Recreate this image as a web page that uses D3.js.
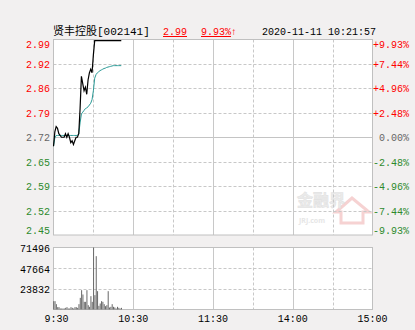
<!DOCTYPE html>
<html>
<head>
<meta charset="utf-8">
<script src="https://cdn.jsdelivr.net/npm/d3@7"></script>
<style>
  body { margin: 0; background: #f2f0f0; }
  text { font-family: "Liberation Mono", "DejaVu Sans Mono", "Noto Sans CJK SC", monospace; }
</style>
</head>
<body>
<div id="chart"></div>
<script>
// data (minutes after 9:30)
const prevClose = 2.72;
const priceTicks = ["2.99", "2.92", "2.86", "2.79", "2.72", "2.65", "2.59", "2.52", "2.45"];
const pctTicks = ["+9.93%", "+7.44%", "+4.96%", "+2.48%", "0.00%", "-2.48%", "-4.96%", "-7.44%", "-9.93%"];
const volTicks = [71496, 47664, 23832];
const timeLabels = ["9:30", "10:30", "11:30", "14:00", "15:00"];
const timeMinutes = [0, 60, 120, 180, 240];

const price = [2.695, 2.735, 2.75, 2.745, 2.73, 2.725, 2.72, 2.72, 2.72, 2.73,
    2.72, 2.73, 2.72, 2.705, 2.71, 2.70, 2.71, 2.72, 2.72, 2.73,
    2.80, 2.89, 2.87, 2.85, 2.86, 2.84, 2.88, 2.90, 2.91, 2.90,
    2.95, 2.99, 2.99, 2.99, 2.99, 2.99, 2.99, 2.99, 2.99, 2.99,
    2.99, 2.99, 2.99, 2.99, 2.99, 2.99, 2.99, 2.99, 2.99, 2.99,
    2.99, 2.99];
const avgPrice = [2.695, 2.718, 2.725, 2.725, 2.725, 2.725, 2.725, 2.725, 2.725, 2.725,
    2.725, 2.725, 2.725, 2.725, 2.725, 2.725, 2.725, 2.725, 2.725, 2.73,
    2.76, 2.785, 2.79, 2.795, 2.80, 2.802, 2.805, 2.81, 2.815, 2.825,
    2.85, 2.885, 2.895, 2.90, 2.903, 2.906, 2.908, 2.91, 2.912, 2.913,
    2.915, 2.916, 2.917, 2.918, 2.919, 2.92, 2.92, 2.92, 2.92, 2.92,
    2.92, 2.92];
const volume = [9610, 9610, 6150, 2690, 2690, 1150, 1150, 1150, 1150, 1920,
    2690, 1150, 1150, 2690, 1920, 1150, 2690, 2690, 1920, 6150,
    13450, 22290, 17300, 8840, 8840, 22290, 5000, 3080, 15380, 8840,
    71496, 16530, 61500, 21140, 4230, 6920, 9610, 8840, 6150, 3840,
    5000, 21140, 2310, 3080, 6150, 3080, 2310, 1150, 3080, 1920,
    1150, 1920];

const W = 415, H = 330;
const left = 53.5, right = 372.5;
const pTop = 39.5, pBot = 235;
const vTop = 247.5, vBot = 309.5;

const svg = d3.select("#chart").append("svg")
    .attr("width", W)
    .attr("height", H);

svg.append("rect").attr("width", W).attr("height", H).attr("fill", "#f2f0f0");

const x = d3.scaleLinear().domain([0, 240]).range([left, right]);
const y = d3.scaleLinear().domain([prevClose - 0.273, prevClose + 0.273]).range([pBot, pTop]);
const yv = d3.scaleLinear().domain([0, volTicks[0]]).range([vBot, vTop]);

// panels
svg.append("rect").attr("x", left).attr("y", pTop).attr("width", right - left).attr("height", pBot - pTop)
    .attr("fill", "#fff");
svg.append("rect").attr("x", left).attr("y", vTop).attr("width", right - left).attr("height", vBot - vTop)
    .attr("fill", "#fff");

// watermark
const wm = svg.append("g");
wm.append("path").attr("d", "M336,212 L352,198 L369,212 L363,212 L363,223 L341,223 L341,212 Z")
    .attr("fill", "none").attr("stroke", "#f6d2d2").attr("stroke-width", 3);
wm.append("text").attr("x", 297).attr("y", 206).text("金融界")
    .style("font-family", "Noto Sans CJK SC").style("font-size", "16px").style("font-weight", "bold")
    .attr("fill", "#ececec").attr("stroke", "#e2e2e2").attr("stroke-width", 0.6);
wm.append("text").attr("x", 299).attr("y", 223).text("JRJ.com")
    .style("font-family", "Noto Sans").style("font-size", "7px").style("font-weight", "bold")
    .attr("fill", "#e6e6e6");

// horizontal grid, price panel
const gridStep = (pBot - pTop) / 8;
d3.range(1, 8).forEach(function (i) {
    const yy = Math.round(pTop + i * gridStep) + 0.5;
    svg.append("line").attr("x1", left).attr("x2", right).attr("y1", yy).attr("y2", yy)
        .attr("stroke", i == 4 ? "#c4c4c4" : "#c8c8c8")
        .attr("stroke-width", 1)
        .attr("stroke-dasharray", i == 4 ? null : "3,2");
});

// horizontal grid, volume panel
d3.range(1, 3).forEach(function (i) {
    const yy = Math.round(yv(volTicks[i])) + 0.5;
    svg.append("line").attr("x1", left).attr("x2", right).attr("y1", yy).attr("y2", yy)
        .attr("stroke", "#c8c8c8").attr("stroke-dasharray", "3,2");
});

// vertical grid
[30, 60, 90, 120, 150, 180, 210].forEach(function (m) {
    const xx = Math.round(x(m)) + 0.5;
    const solid = m % 60 == 0;
    [[pTop, pBot], [vTop, vBot]].forEach(function (r) {
        svg.append("line").attr("x1", xx).attr("x2", xx).attr("y1", r[0]).attr("y2", r[1])
            .attr("stroke", "#c8c8c8")
            .attr("stroke-dasharray", solid ? null : "3,2");
    });
});

// borders
[[pTop, pBot], [vTop, vBot]].forEach(function (r) {
    svg.append("rect").attr("x", left).attr("y", r[0]).attr("width", right - left).attr("height", r[1] - r[0])
        .attr("fill", "none").attr("stroke", "#c0c0c0");
});

// volume bars
svg.selectAll(".vol").data(volume).enter().append("rect")
    .attr("class", "vol")
    .attr("x", function (d, i) { return x(i) - 0.3; })
    .attr("width", 1)
    .attr("y", function (d) { return yv(d); })
    .attr("height", function (d) { return vBot - yv(d); })
    .attr("fill", "#686868");

// average line
svg.append("path").datum(avgPrice)
    .attr("fill", "none").attr("stroke", "#2a9a96").attr("stroke-width", 1)
    .attr("d", d3.line().x(function (d, i) { return x(i); }).y(function (d) { return y(d); }));

// price line
svg.append("path").datum(price)
    .attr("fill", "none").attr("stroke", "#000").attr("stroke-width", 1.2)
    .attr("d", d3.line().x(function (d, i) { return x(i); }).y(function (d) { return y(d); }));

// axis labels
function tickColor(i) {
    if (i < 4) return "#ff0000";
    if (i == 4) return "#666";
    return "#2e8b2e";
}
function labelY(i) {
    const yy = pTop + i * gridStep;
    if (i == 0) return yy + 6;
    if (i == 8) return yy - 4;
    return yy + 1.5;
}
svg.selectAll(".pl").data(priceTicks).enter().append("text")
    .attr("x", 50).attr("y", function (d, i) { return labelY(i); })
    .attr("text-anchor", "end").attr("dominant-baseline", "central")
    .style("font-size", "10px")
    .attr("fill", function (d, i) { return tickColor(i); })
    .text(function (d) { return d; });

svg.selectAll(".pr").data(pctTicks).enter().append("text")
    .attr("x", 409).attr("y", function (d, i) { return labelY(i); })
    .attr("text-anchor", "end").attr("dominant-baseline", "central")
    .style("font-size", "10px")
    .attr("fill", function (d, i) { return tickColor(i); })
    .text(function (d) { return d; });

svg.selectAll(".vl").data(volTicks).enter().append("text")
    .attr("x", 50).attr("y", function (d) { return yv(d) + 2; })
    .attr("text-anchor", "end").attr("dominant-baseline", "central")
    .style("font-size", "10px").attr("fill", "#000")
    .text(function (d) { return d; });

svg.selectAll(".tl").data(timeLabels).enter().append("text")
    .attr("x", function (d, i) { return i == 0 ? x(0) + 3 : x(timeMinutes[i]); })
    .attr("y", 319).attr("text-anchor", "middle").attr("dominant-baseline", "central")
    .style("font-size", "10px").attr("fill", "#000")
    .text(function (d) { return d; });

// header
svg.append("text").attr("x", 53).attr("y", 35)
    .style("font-size", "11px").attr("fill", "#000")
    .text("贤丰控股[002141]");
svg.append("text").attr("x", 163).attr("y", 35)
    .style("font-size", "10px").style("text-decoration", "underline").attr("fill", "#ff0000")
    .text("2.99");
const chg = svg.append("text").attr("x", 201).attr("y", 35)
    .style("font-size", "10px").attr("fill", "#ff0000");
chg.append("tspan").style("text-decoration", "underline").text("9.93%");
chg.append("tspan").text("↑");
svg.append("text").attr("x", 262).attr("y", 35)
    .style("font-size", "10px").attr("fill", "#000")
    .text("2020-11-11 10:21:57");
</script>
</body>
</html>
